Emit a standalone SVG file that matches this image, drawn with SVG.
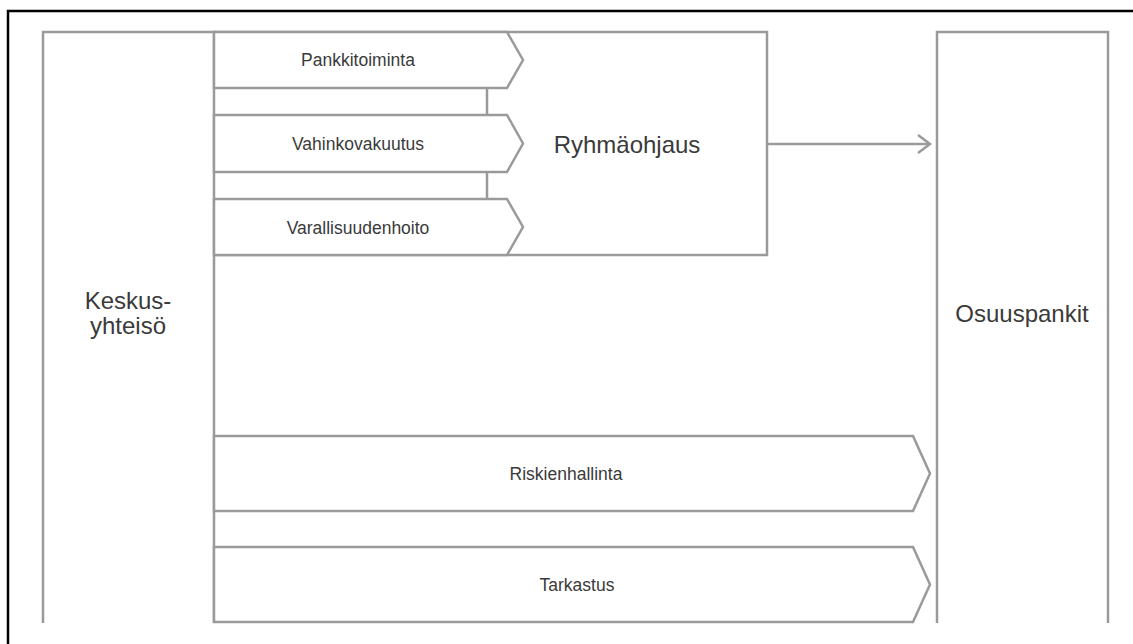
<svg xmlns="http://www.w3.org/2000/svg" width="1133" height="644" viewBox="0 0 1133 644">
  <style>
    .ln { fill: none; stroke: #9a9a9a; stroke-width: 2.5; stroke-linejoin: miter; }
    .box { fill: #ffffff; stroke: #9a9a9a; stroke-width: 2.5; }
    .big { font-family: "Liberation Sans", Arial, sans-serif; font-size: 24px; fill: #3a3a3a; text-anchor: middle; }
    .sm { font-family: "Liberation Sans", Arial, sans-serif; font-size: 17.5px; fill: #3a3a3a; text-anchor: middle; }
    .frame { fill: none; stroke: #000000; stroke-width: 2.5; }
  </style>
  <rect width="1133" height="644" fill="#ffffff"/>
  <path class="frame" d="M8,644 V11 H1133"/>

  <g id="keskusyhteiso">
    <path class="ln" d="M43,623 V32 H214 V623"/>
    <text class="big" x="128" y="309">Keskus-</text>
    <text class="big" x="128" y="334">yhteisö</text>
  </g>

  <g id="ryhmaohjaus">
    <path class="ln" d="M214,32 H767 V255 H214"/>
    <text class="big" x="627" y="153">Ryhmäohjaus</text>
  </g>

  <g id="pankkitoiminta">
    <polygon class="box" points="214,32 507,32 523,60 507,88 214,88"/>
    <text class="sm" x="358" y="66">Pankkitoiminta</text>
  </g>

  <g id="vahinkovakuutus">
    <polygon class="box" points="214,115 507,115 523,143.5 507,172 214,172"/>
    <text class="sm" x="358" y="150">Vahinkovakuutus</text>
  </g>

  <g id="varallisuudenhoito">
    <polygon class="box" points="214,199 507,199 523,227 507,255 214,255"/>
    <text class="sm" x="358" y="234">Varallisuudenhoito</text>
  </g>

  <g id="riskienhallinta">
    <polygon class="box" points="214,436 913,436 930,473.5 913,511 214,511"/>
    <text class="sm" x="566" y="480">Riskienhallinta</text>
  </g>

  <g id="tarkastus">
    <polygon class="box" points="214,547 913,547 930,584.5 913,622 214,622"/>
    <text class="sm" x="577" y="591">Tarkastus</text>
  </g>

  <g id="osuuspankit">
    <path class="ln" d="M937,623 V32 H1108 V623"/>
    <text class="big" x="1022" y="322">Osuuspankit</text>
  </g>

  <g id="connectors">
    <line class="ln" x1="487" y1="88" x2="487" y2="115"/>
    <line class="ln" x1="487" y1="172" x2="487" y2="199"/>
    <line class="ln" x1="767" y1="144" x2="929" y2="144"/>
    <polyline class="ln" points="918,135 930,144 918,153"/>
  </g>
</svg>
